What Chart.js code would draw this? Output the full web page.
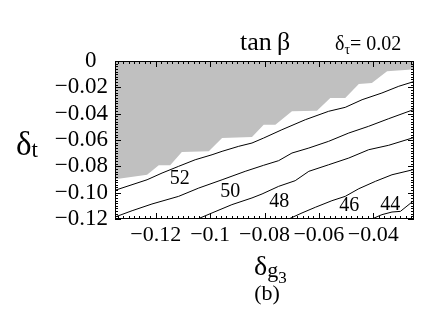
<!DOCTYPE html>
<html>
<head>
<meta charset="utf-8">
<script src="https://cdn.jsdelivr.net/npm/chart.js@4.4.0/dist/chart.umd.min.js"></script>
<style>
  html, body { margin: 0; padding: 0; background: #fff; }
</style>
</head>
<body>
<canvas id="chart" width="431" height="318"></canvas>
<script>
'use strict';

// axis ticks
const xTicks = [-0.12, -0.1, -0.08, -0.06, -0.04];
const xTickLabels = ['\u22120.12', '\u22120.1', '\u22120.08', '\u22120.06', '\u22120.04'];
const yTicks = [0, -0.02, -0.04, -0.06, -0.08, -0.10, -0.12];
const yTickLabels = ['0', '\u22120.02', '\u22120.04', '\u22120.06', '\u22120.08', '\u22120.10', '\u22120.12'];

// excluded (grey) region, lower boundary
const greyX = [-0.135, -0.1232, -0.1189, -0.1147, -0.1104, -0.1005, -0.0956, -0.0846, -0.0803, -0.0760,
  -0.0699, -0.0607, -0.0558, -0.0503, -0.0453, -0.0405, -0.0349, -0.0270, -0.025];
const greyY = [-0.0898, -0.0864, -0.0792, -0.0792, -0.0691, -0.0686, -0.0585, -0.0577, -0.0484, -0.0484,
  -0.0382, -0.0377, -0.0281, -0.0281, -0.0175, -0.0167, -0.0078, -0.0066, -0.0061];

// tan beta contours
const c52x = [-0.135, -0.1232, -0.1177, -0.1116, -0.1055, -0.0993, -0.0956, -0.0895, -0.0846, -0.0803,
  -0.0736, -0.0650, -0.0564, -0.0503, -0.0441, -0.0368, -0.0306, -0.025];
const c52y = [-0.0982, -0.0902, -0.0851, -0.0800, -0.0750, -0.0712, -0.0686, -0.0648, -0.0623, -0.0585,
  -0.0522, -0.0446, -0.0382, -0.0352, -0.0294, -0.0243, -0.0192, -0.0156];

const c50x = [-0.135, -0.1287, -0.1214, -0.1116, -0.1042, -0.0956, -0.0871, -0.0803, -0.0748, -0.0699,
  -0.0637, -0.0564, -0.0490, -0.0417, -0.0343, -0.025];
const c50y = [-0.1185, -0.1137, -0.1086, -0.1028, -0.0965, -0.0902, -0.0838, -0.0792, -0.0757, -0.0699,
  -0.0661, -0.0610, -0.0547, -0.0496, -0.0438, -0.0368];

const c48x = [-0.1046, -0.0993, -0.0920, -0.0846, -0.0809, -0.0748, -0.0687, -0.0637, -0.0564, -0.0490,
  -0.0417, -0.0343, -0.025];
const c48y = [-0.12, -0.1154, -0.1091, -0.1040, -0.1010, -0.0952, -0.0909, -0.0838, -0.0788, -0.0737,
  -0.0674, -0.0640, -0.0581];

const c46x = [-0.0711, -0.0662, -0.0613, -0.0552, -0.0503, -0.0453, -0.0392, -0.0331, -0.025];
const c46y = [-0.12, -0.1154, -0.1111, -0.1061, -0.1028, -0.0970, -0.0914, -0.0864, -0.0824];

const c44x = [-0.0405, -0.0368, -0.0331, -0.0300, -0.025];
const c44y = [-0.12, -0.1167, -0.1147, -0.1142, -0.1059];

// contour labels
const levelNames = ['52', '50', '48', '46', '44'];
const levelLabelX = [-0.1112, -0.0926, -0.0746, -0.0488, -0.0337];
const levelLabelY = [-0.0894, -0.0990, -0.1071, -0.1096, -0.1091];

const SERIF = "'Liberation Serif', 'DejaVu Serif', serif";

function zip(xs, ys) {
  return xs.map((x, i) => ({ x: x, y: ys[i] }));
}

function contour(xs, ys) {
  return {
    data: zip(xs, ys),
    borderColor: '#000',
    borderWidth: 1,
    pointRadius: 0,
    fill: false,
    tension: 0,
  };
}

// draws pieces [text, size, dy] one after another from x on a baseline
function drawRun(ctx, x, y, pieces) {
  pieces.forEach(([text, size, dy]) => {
    ctx.font = size + 'px ' + SERIF;
    ctx.fillText(text, x, y + dy);
    x += ctx.measureText(text).width;
  });
}

// frame, inward ticks on all four sides, contour labels and the texts round the plot
const decorations = {
  id: 'decorations',
  afterDatasetsDraw(chart) {
    const ctx = chart.ctx;
    const a = chart.chartArea;
    const xs = chart.scales.x;
    const ys = chart.scales.y;
    ctx.save();
    ctx.strokeStyle = '#000';
    ctx.lineWidth = 1;
    ctx.strokeRect(a.left + 0.5, a.top + 0.5, a.right - a.left - 1, a.bottom - a.top - 1);

    ctx.beginPath();
    // minor ticks every 0.002, major every 0.02
    for (let i = -67; i <= -13; i++) {
      const v = i * 0.002;
      if (v < xs.min - 1e-9 || v > xs.max + 1e-9) continue;
      const px = Math.round(xs.getPixelForValue(v)) + 0.5;
      const len = i % 10 === 0 ? 6 : 3;
      ctx.moveTo(px, a.bottom);
      ctx.lineTo(px, a.bottom - len);
      ctx.moveTo(px, a.top);
      ctx.lineTo(px, a.top + len);
    }
    for (let i = -60; i <= 0; i++) {
      const py = Math.round(ys.getPixelForValue(i * 0.002)) + 0.5;
      const len = i % 10 === 0 ? 6 : 3;
      ctx.moveTo(a.left, py);
      ctx.lineTo(a.left + len, py);
      ctx.moveTo(a.right, py);
      ctx.lineTo(a.right - len, py);
    }
    ctx.stroke();

    ctx.fillStyle = '#000';
    ctx.textAlign = 'center';
    ctx.textBaseline = 'middle';
    ctx.font = '20px ' + SERIF;
    levelNames.forEach((name, i) => {
      ctx.fillText(name, xs.getPixelForValue(levelLabelX[i]), ys.getPixelForValue(levelLabelY[i]));
    });

    ctx.textBaseline = 'alphabetic';
    ctx.textAlign = 'left';
    drawRun(ctx, 240, 50, [['tan', 26, 0], ['\u2009', 26, 0], ['\u03b2', 26, 0]]);
    drawRun(ctx, 335, 50, [['\u03b4', 20, 0], ['\u03c4', 14, 4], ['= 0.02', 20, 0]]);
    drawRun(ctx, 16, 155, [['\u03b4', 33, 0], ['t', 23, 2]]);
    drawRun(ctx, 254, 275, [['\u03b4', 28, 0], ['g', 22, 2], ['3', 17, 8]]);
    ctx.font = '22px ' + SERIF;
    ctx.textAlign = 'center';
    ctx.fillText('(b)', 267, 300);
    ctx.restore();
  },
};

const chart = new Chart(document.getElementById('chart'), {
  type: 'line',
  data: {
    datasets: [
      {
        data: zip(greyX, greyY),
        borderWidth: 0,
        borderColor: 'rgba(0,0,0,0)',
        backgroundColor: '#c0c0c0',
        pointRadius: 0,
        fill: 'end',
        tension: 0,
      },
      contour(c52x, c52y),
      contour(c50x, c50y),
      contour(c48x, c48y),
      contour(c46x, c46y),
      contour(c44x, c44y),
    ],
  },
  options: {
    responsive: false,
    animation: false,
    devicePixelRatio: 1,
    layout: { padding: { left: 0, top: 61, right: 17, bottom: 0 } },
    plugins: {
      legend: { display: false },
      tooltip: { enabled: false },
    },
    scales: {
      x: {
        type: 'linear',
        min: -0.135,
        max: -0.025,
        grid: { display: false, drawTicks: false },
        border: { display: false },
        afterBuildTicks: (scale) => {
          scale.ticks = xTicks.map((v) => ({ value: v }));
        },
        afterFit: (scale) => {
          scale.height = 99;
        },
        ticks: {
          autoSkip: false,
          maxRotation: 0,
          padding: 3,
          color: '#000',
          font: { family: SERIF, size: 22 },
          callback: (value, index) => xTickLabels[index],
        },
      },
      y: {
        type: 'linear',
        min: -0.12,
        max: 0,
        grid: { display: false, drawTicks: false },
        border: { display: false },
        afterBuildTicks: (scale) => {
          scale.ticks = yTicks.map((v) => ({ value: v }));
        },
        afterFit: (scale) => {
          scale.width = 115;
        },
        ticks: {
          autoSkip: false,
          padding: 7,
          color: '#000',
          font: { family: SERIF, size: 23 },
          // the lone zero sits a little left of the other labels
          callback: (value, index) => (index === 0 ? yTickLabels[index] + '\u2002' : yTickLabels[index]),
        },
      },
    },
  },
  plugins: [decorations],
});
</script>
</body>
</html>
